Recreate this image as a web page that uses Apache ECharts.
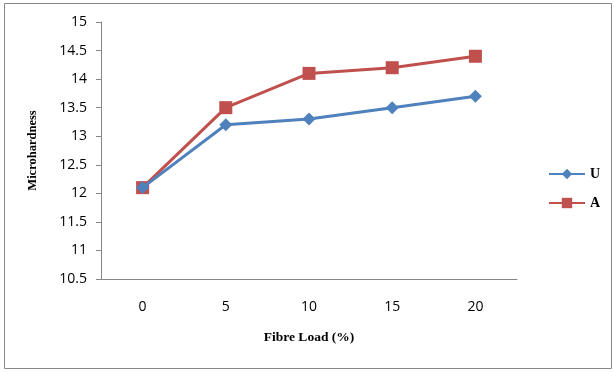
<!DOCTYPE html>
<html>
<head>
<meta charset="utf-8">
<script src="https://cdn.jsdelivr.net/npm/echarts@6/dist/echarts.min.js"></script>
<style>
  html, body { margin: 0; padding: 0; background: #fff; }
  #chart { width: 614px; height: 373px; }
</style>
</head>
<body>
<div id="chart"></div>
<script>
// fibre load categories (%)
const fibreLoad = ["0", "5", "10", "15", "20"];
// microhardness per series
const uValues = [12.1, 13.2, 13.3, 13.5, 13.7];
const aValues = [12.1, 13.5, 14.1, 14.2, 14.4];
const yTicks = { min: 10.5, max: 15, step: 0.5 };

const myChart = echarts.init(document.getElementById("chart"), null, { renderer: "canvas" });

const labelFont = "'Open Sans', 'Noto Sans', sans-serif";
const titleFont = "'Liberation Serif', 'DejaVu Serif', serif";

const option = {
  animation: false,
  backgroundColor: "#fff",
  grid: { left: 101, right: 97, top: 22, bottom: 94 },
  graphic: [
    {
      type: "rect",
      shape: { x: 4.5, y: 3.5, width: 607, height: 365 },
      style: { fill: "none", stroke: "#888", lineWidth: 1 },
      silent: true,
    },
  ],
  legend: {
    orient: "vertical",
    left: 543,
    top: 162,
    itemWidth: 36,
    itemHeight: 13,
    itemGap: 15,
    textStyle: { fontFamily: titleFont, fontSize: 14, fontWeight: "bold", color: "#000" },
    data: ["U", "A"],
  },
  xAxis: {
    type: "category",
    data: fibreLoad,
    boundaryGap: true,
    axisLine: { lineStyle: { color: "#868686", width: 1 } },
    axisTick: { show: false },
    axisLabel: { margin: 21, fontFamily: labelFont, fontSize: 14, color: "#000" },
    name: "Fibre Load (%)",
    nameLocation: "middle",
    nameGap: 52,
    nameTextStyle: { fontFamily: titleFont, fontSize: 13.5, fontWeight: "bold", color: "#000" },
    splitLine: { show: false },
  },
  yAxis: {
    type: "value",
    min: yTicks.min,
    max: yTicks.max,
    interval: yTicks.step,
    axisLine: { show: true, lineStyle: { color: "#868686", width: 1 } },
    axisTick: { show: true, length: 5, lineStyle: { color: "#868686" } },
    axisLabel: { margin: 14, fontFamily: labelFont, fontSize: 14, color: "#000" },
    splitLine: { show: false },
    name: "Microhardness",
    nameLocation: "middle",
    nameRotate: 90,
    nameGap: 62,
    nameTextStyle: { fontFamily: titleFont, fontSize: 12.5, fontWeight: "bold", color: "#000" },
  },
  series: [
    {
      name: "U",
      type: "line",
      data: uValues,
      symbol: "diamond",
      symbolSize: 13,
      itemStyle: { color: "#4F81BD" },
      lineStyle: { color: "#4F81BD", width: 3 },
      z: 3,
    },
    {
      name: "A",
      type: "line",
      data: aValues,
      symbol: "rect",
      symbolSize: 13,
      itemStyle: { color: "#C0504D" },
      lineStyle: { color: "#C0504D", width: 3 },
      z: 2,
    },
  ],
};

myChart.setOption(option);
</script>
</body>
</html>
